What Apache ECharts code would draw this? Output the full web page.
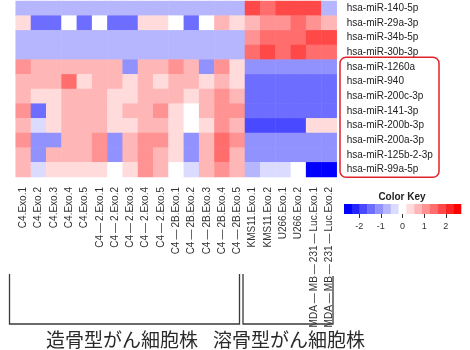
<!DOCTYPE html>
<html>
<head>
<meta charset="utf-8">
<script src="https://cdn.jsdelivr.net/npm/echarts@6/dist/echarts.min.js"></script>
<style>
  html, body { margin: 0; padding: 0; background: #fff; }
  #chart { width: 470px; height: 350px; }
</style>
</head>
<body>
<div id="chart"></div>
<script>
// column (sample) names, left to right
var colNames = [
    'C4.Exo.1', 'C4.Exo.2', 'C4.Exo.3', 'C4.Exo.4', 'C4.Exo.5',
    'C4\u2009—\u20092.Exo.1', 'C4\u2009—\u20092.Exo.2', 'C4\u2009—\u20092.Exo.3', 'C4\u2009—\u20092.Exo.4', 'C4\u2009—\u20092.Exo.5',
    'C4\u2009—\u20092B.Exo.1', 'C4\u2009—\u20092B.Exo.2', 'C4\u2009—\u20092B.Exo.3', 'C4\u2009—\u20092B.Exo.4', 'C4\u2009—\u20092B.Exo.5',
    'KMS11.Exo.1', 'KMS11.Exo.2', 'U266.Exo.1', 'U266.Exo.2',
    'MDA\u2009—\u2009MB\u2009—\u2009231\u2009—\u2009Luc.Exo.1', 'MDA\u2009—\u2009MB\u2009—\u2009231\u2009—\u2009Luc.Exo.2'
];

// row (miRNA) names, top to bottom
var rowNames = [
    'hsa-miR-140-5p', 'hsa-miR-29a-3p', 'hsa-miR-34b-5p', 'hsa-miR-30b-3p',
    'hsa-miR-1260a', 'hsa-miR-940', 'hsa-miR-200c-3p', 'hsa-miR-141-3p',
    'hsa-miR-200b-3p', 'hsa-miR-200a-3p', 'hsa-miR-125b-2-3p', 'hsa-miR-99a-5p'
];

// row z-scores, one array per miRNA
var r140_5p = [-0.7, -0.7, -0.7, -0.7, -0.7, -0.7, -0.7, -0.7, -0.7, -0.7, -0.7, -0.7, -0.7, -0.7, -0.7, 1.8, 1.4, 1.8, 1.8, 1.8, -0.7];
var r29a_3p = [0.4, -1.4, -1.4, 0, -1.4, 0, -1.4, -1.4, 0.4, 0.4, 0, -1.4, 0, 0.7, 0.4, 0.7, 1.1, 1.1, 1.4, 1.1, 0.7];
var r34b_5p = [-0.7, -0.7, -0.7, -0.7, -0.7, -0.7, -0.7, -0.7, -0.7, -0.7, -0.7, -0.7, -0.7, -0.7, -0.7, 1.1, 1.4, 1.4, 1.4, 1.8, 1.8];
var r30b_3p = [-0.7, -0.7, -0.7, -0.7, -0.7, -0.7, -0.7, -0.7, -0.7, -0.7, -0.7, -0.7, -0.7, -0.7, -0.7, 1.4, 1.8, 1.4, 1.8, 1.4, 1.4];
var r1260a = [1.1, 0.7, 0.7, 0.7, 0.7, 0.7, 0.7, -1.1, 0.7, 0.7, 1.1, 0.7, -1.1, 1.1, 0.4, -1.1, -1.1, -1.1, -1.1, -1.1, -1.1];
var r940 = [0.7, 0.7, 0.7, 1.4, 0.4, 0.7, 0.7, 0.4, 0.7, 0.4, 0.7, 0.7, 0.4, 0.7, 0.4, -1.4, -1.4, -1.4, -1.4, -1.4, -1.4];
var r200c_3p = [0.7, 0.4, 0.4, 0.7, 0.7, 0.7, 0.4, 0.4, 0.7, 0.7, 0.7, 0.4, 0.7, 1.1, 0.7, -1.4, -1.4, -1.4, -1.4, -1.4, -1.4];
var r141_3p = [1.1, -1.4, 0.4, 0.7, 0.7, 0.7, 0.4, 0.7, 0.7, 1.1, 0.4, 0, 0.7, 1.1, 1.1, -1.4, -1.4, -1.4, -1.4, -1.4, -1.4];
var r200b_3p = [0.7, -0.4, 0.4, 0.7, 0.7, 0.7, 0.4, 0.4, 0.7, 0.7, 0.4, 0, 0.4, 1.1, 0.7, -1.8, -1.8, -1.8, -1.8, 0.4, 0.4];
var r200a_3p = [1.1, -1.1, -1.1, 0.7, 0.7, 1.1, -1.1, 0.7, 1.1, 1.1, 0.4, -1.1, 0.7, 1.4, 1.1, -1.1, -1.1, -1.1, -1.1, -1.1, -1.1];
var r125b_2_3p = [0.7, -1.1, 0.7, 0.7, 0.7, 1.1, -1.1, 0.7, 1.1, 0.7, 0.4, -1.1, 0.7, 1.4, 0.7, -1.1, -1.1, -1.1, -1.1, -1.1, -1.1];
var r99a_5p = [0.7, -0.4, 0.4, 0.4, 0.4, 0.4, 0, 0.4, 1.1, 0.7, 0, -0.4, 0.7, 1.1, 0.7, -0.7, -0.4, -0.4, 0, -2.5, -2.5];

var rowValues = [r140_5p, r29a_3p, r34b_5p, r30b_3p, r1260a, r940, r200c_3p, r141_3p, r200b_3p, r200a_3p, r125b_2_3p, r99a_5p];

// colour key: bin edges and colours
var keyBreaks = [-2.7, -2.34, -1.98, -1.62, -1.26, -0.9, -0.54, -0.18, 0.18, 0.54, 0.9, 1.26, 1.62, 1.98, 2.34, 2.7];
var keyColors = ['#0000FF', '#2424FF', '#4949FF', '#6D6DFF', '#9292FF', '#B6B6FF', '#DBDBFF', '#FFFFFF',
                 '#FFDBDB', '#FFB6B6', '#FF9292', '#FF6D6D', '#FF4949', '#FF2424', '#FF0000'];
var keyTicks = [-2, -1, 0, 1, 2];

var groupLabels = ['造骨型がん細胞株', '溶骨型がん細胞株'];

var heatData = [];
for (var r = 0; r < rowValues.length; r++) {
    for (var c = 0; c < colNames.length; c++) {
        heatData.push([c, r, rowValues[r][c]]);
    }
}

var pieces = [];
var keyData = [];
for (var i = 0; i < keyColors.length; i++) {
    pieces.push({ gte: keyBreaks[i], lt: keyBreaks[i + 1], color: keyColors[i] });
    keyData.push([keyBreaks[i], keyBreaks[i + 1], i]);
}

var font = "'Liberation Sans', Arial, sans-serif";
var cjkFont = "'Noto Sans CJK JP', sans-serif";
var lineCol = '#3a3a3a';

var option = {
    animation: false,
    backgroundColor: '#fff',
    textStyle: { fontFamily: font },
    grid: [
        { left: 15.7, top: 1, width: 321, height: 176 },
        { left: 344, top: 204, width: 117, height: 10 }
    ],
    xAxis: [{
        type: 'category',
        gridIndex: 0,
        data: colNames,
        position: 'bottom',
        axisLine: { show: false },
        axisTick: { show: false },
        splitLine: { show: false },
        axisLabel: { rotate: 90, fontSize: 10, margin: 10, color: '#333', fontFamily: font, interval: 0 }
    }, {
        type: 'value',
        gridIndex: 1,
        min: -2.7,
        max: 2.7,
        axisLine: { show: false },
        splitLine: { show: false },
        axisTick: { show: true, customValues: keyTicks, length: 4, lineStyle: { color: '#333', width: 1 } },
        axisLabel: { customValues: keyTicks, fontSize: 9, margin: 8, color: '#333', fontFamily: font }
    }],
    yAxis: [{
        type: 'category',
        gridIndex: 0,
        data: rowNames,
        inverse: true,
        position: 'right',
        axisLine: { show: false },
        axisTick: { show: false },
        splitLine: { show: false },
        axisLabel: { fontSize: 10, margin: 10, color: '#222', fontFamily: font, interval: 0 }
    }, {
        type: 'value',
        gridIndex: 1,
        min: 0,
        max: 1,
        show: false
    }],
    visualMap: {
        type: 'piecewise',
        show: false,
        seriesIndex: 0,
        pieces: pieces
    },
    series: [{
        type: 'heatmap',
        xAxisIndex: 0,
        yAxisIndex: 0,
        data: heatData,
        itemStyle: { borderWidth: 0 },
        emphasis: { disabled: true }
    }, {
        type: 'custom',
        xAxisIndex: 1,
        yAxisIndex: 1,
        data: keyData,
        encode: { x: [0, 1] },
        silent: true,
        renderItem: function(params, api) {
            var p0 = api.coord([api.value(0), 1]);
            var p1 = api.coord([api.value(1), 0]);
            return {
                type: 'rect',
                shape: { x: p0[0], y: p0[1], width: p1[0] - p0[0] + 0.3, height: p1[1] - p0[1] },
                style: { fill: keyColors[api.value(2)] }
            };
        }
    }],
    graphic: [
        // red box round the lower row labels
        { type: 'rect', shape: { x: 340, y: 57.3, width: 99, height: 120, r: 6 },
          style: { fill: 'none', stroke: '#E3222A', lineWidth: 1.5 } },
        // colour key title
        { type: 'text', x: 402, y: 197, style: { text: 'Color Key', font: 'bold 10px ' + font, fill: '#222', align: 'center', verticalAlign: 'middle' } },
        // group brackets
        { type: 'polyline', shape: { points: [[9.5, 274], [9.5, 324], [239.5, 324], [239.5, 274]] },
          style: { stroke: lineCol, lineWidth: 1.3, fill: 'none' } },
        { type: 'polyline', shape: { points: [[243, 274], [243, 324], [333, 324], [333, 276]] },
          style: { stroke: lineCol, lineWidth: 1.3, fill: 'none' } },
        // group names
        { type: 'text', x: 122, y: 340, style: { text: groupLabels[0], font: '19px ' + cjkFont, fill: '#2a2a2a', align: 'center', verticalAlign: 'middle' } },
        { type: 'text', x: 289, y: 340, style: { text: groupLabels[1], font: '19px ' + cjkFont, fill: '#2a2a2a', align: 'center', verticalAlign: 'middle' } }
    ]
};

var chart = echarts.init(document.getElementById('chart'), null, { renderer: 'canvas' });
chart.setOption(option);
</script>
</body>
</html>
